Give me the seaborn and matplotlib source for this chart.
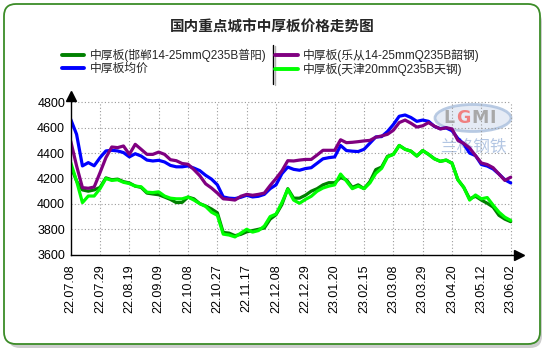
import numpy as np
import pandas as pd
import matplotlib
matplotlib.use("Agg")
import matplotlib.pyplot as plt
import seaborn as sns
from matplotlib.patches import FancyBboxPatch, Ellipse
from matplotlib.lines import Line2D
from matplotlib.transforms import IdentityTransform

# ---------------- data (one point every 3 trading days) ----------------
date_labels = ["22.07.08", "22.07.29", "22.08.19", "22.09.09", "22.10.08", "22.10.27",
               "22.11.17", "22.12.08", "22.12.29", "23.01.20", "23.02.15", "23.03.08",
               "23.03.29", "23.04.20", "23.05.12", "23.06.02"]

handan = [4300, 4180, 4110, 4100, 4110, 4130, 4205, 4190, 4195, 4175, 4165, 4140, 4130,
          4085, 4078, 4072, 4054, 4035, 4010, 4012, 4054, 4040, 4002, 3984, 3960, 3930,
          3775, 3770, 3750, 3760, 3780, 3790, 3800, 3810, 3880, 3915, 3995, 4120, 4045,
          4045, 4068, 4100, 4120, 4150, 4167, 4167, 4207, 4190, 4130, 4150, 4120, 4175,
          4270, 4290, 4375, 4390, 4460, 4430, 4415, 4377, 4420, 4390, 4355, 4335, 4345,
          4320, 4190, 4130, 4040, 4060, 4030, 4005, 3975, 3910, 3880, 3860]

average = [4666, 4548, 4299, 4325, 4300, 4364, 4417, 4422, 4417, 4404, 4370, 4395, 4377,
           4345, 4338, 4343, 4330, 4303, 4292, 4292, 4299, 4282, 4262, 4225, 4195, 4150,
           4055, 4045, 4042, 4052, 4068, 4055, 4060, 4075, 4120, 4150, 4238, 4290, 4272,
           4265, 4278, 4285, 4320, 4355, 4364, 4370, 4460, 4420, 4415, 4412, 4430, 4478,
           4527, 4530, 4570, 4625, 4690, 4700, 4680, 4650, 4660, 4650, 4610, 4592, 4598,
           4576, 4515, 4472, 4400, 4380, 4310, 4298, 4275, 4235, 4190, 4165]

lecong = [4495, 4300, 4128, 4123, 4133, 4246, 4364, 4448, 4443, 4456, 4390, 4469, 4430,
          4390, 4390, 4408, 4390, 4348, 4340, 4318, 4312, 4270, 4222, 4158, 4125, 4085,
          4040, 4036, 4030, 4060, 4075, 4068, 4075, 4085, 4145, 4200, 4260, 4340, 4338,
          4345, 4350, 4350, 4385, 4422, 4422, 4422, 4505, 4482, 4485, 4490, 4496, 4500,
          4525, 4535, 4548, 4580, 4640, 4660, 4635, 4605, 4615, 4640, 4612, 4590, 4600,
          4590, 4500, 4476, 4440, 4380, 4322, 4310, 4285, 4235, 4185, 4210]

tianjin = [4325, 4180, 4010, 4062, 4062, 4120, 4200, 4185, 4190, 4170, 4160, 4140, 4135,
           4092, 4089, 4095, 4062, 4045, 4040, 4040, 4054, 4030, 4002, 3980, 3935, 3910,
           3762, 3755, 3740, 3770, 3800, 3778, 3790, 3825, 3900, 3920, 4010, 4115, 4030,
           4005, 4035, 4060, 4100, 4125, 4140, 4150, 4235, 4180, 4120, 4140, 4120, 4165,
           4240, 4280, 4370, 4390, 4460, 4430, 4415, 4377, 4420, 4390, 4355, 4335, 4345,
           4320, 4190, 4130, 4030, 4070, 4040, 4050, 3990, 3935, 3895, 3870]

series_names = ["中厚板(邯郸14-25mmQ235B普阳)", "中厚板均价",
                "中厚板(乐从14-25mmQ235B韶钢)", "中厚板(天津20mmQ235B天钢)"]
series_values = [handan, average, lecong, tianjin]
series_colors = ["#008000", "#0000FF", "#800080", "#00FF00"]
y_ticks = [3600, 3800, 4000, 4200, 4400, 4600, 4800]
title = "国内重点城市中厚板价格走势图"
watermark_logo = ["L", "G", "M", "I"]
watermark_text = "兰格钢铁"

rows = []
for name, vals in zip(series_names, series_values):
    for i, v in enumerate(vals):
        rows.append({"idx": i, "price": v, "series": name})
df = pd.DataFrame(rows)

# ---------------- style ----------------
sns.set_theme(style="white")
plt.rcParams["font.family"] = ["Liberation Sans", "Noto Sans CJK SC", "DejaVu Sans"]
plt.rcParams["axes.unicode_minus"] = False

W, H = 550, 350
fig = plt.figure(figsize=(5.5, 3.5), dpi=100)
fig.patch.set_facecolor("white")

def fx(x):
    return x / W

def fy(y):
    return 1 - y / H

# card with shadow (pixel coordinates, origin bottom-left)
shadow = FancyBboxPatch((8, H - 348), 534, 338,
                        boxstyle="round,pad=0,rounding_size=12",
                        transform=IdentityTransform(), facecolor="#b8b8b8",
                        edgecolor="none", alpha=0.7, zorder=0)
card = FancyBboxPatch((4, H - 344), 536, 340,
                      boxstyle="round,pad=0,rounding_size=12",
                      transform=IdentityTransform(), facecolor="white",
                      edgecolor="#3c8c28", linewidth=1.3, zorder=1)
fig.patches.extend([shadow, card])

# axes placement
ax_left, ax_right = 70.7, 519.0
ax_top, ax_bottom = 96.0, 254.7
ax = fig.add_axes([fx(ax_left), fy(ax_bottom), fx(ax_right) - fx(ax_left),
                   fy(ax_top) - fy(ax_bottom)])
ax.set_facecolor("none")
ax.set_zorder(3)

n_pts = len(average)
last = n_pts - 1
x_max = last * (ax_right - ax_left) / (510.7 - ax_left)
y_top = 4800 + (102.3 - ax_top) * 200 / 25.45

# watermark (behind lines)
wm_ax = fig.add_axes([0, 0, 1, 1], zorder=2)
wm_ax.set_xlim(0, W)
wm_ax.set_ylim(H, 0)
wm_ax.axis("off")
wm_ax.add_patch(Ellipse((473, 118), 76, 27, facecolor="#dfe7f3", edgecolor="#a9bfdd",
                        linewidth=2.0, alpha=0.8))
logo_x = [449, 463, 480, 493]
logo_c = ["#a8a8a8", "#f08080", "#a8a8a8", "#a8a8a8"]
for ch, lx, lc in zip(watermark_logo, logo_x, logo_c):
    wm_ax.text(lx, 118, ch, ha="center", va="center", fontsize=12.5,
               fontweight="bold", color=lc, family=["DejaVu Sans"])
wm_ax.text(473, 147, watermark_text, ha="center", va="center", fontsize=12,
           color="#b3c6e3", family=["Noto Sans CJK SC"])

sns.lineplot(data=df, x="idx", y="price", hue="series", hue_order=series_names,
             palette=series_colors, linewidth=2.3, legend=False, ax=ax,
             estimator=None, sort=False)

ax.set_xlim(0, x_max)
ax.set_ylim(3600, y_top)
ax.set_xticks(list(range(0, n_pts, 5)))
ax.set_xticklabels(date_labels, rotation=90, fontsize=9)
ax.set_yticks(y_ticks)
ax.set_yticklabels([str(t) for t in y_ticks], fontsize=9)
ax.set_xlabel("")
ax.set_ylabel("")

# grid only inside data range
for t in y_ticks[1:]:
    ax.plot([0, last], [t, t], color="#9a9a9a", linewidth=0.8,
            linestyle=(0, (1, 2)), zorder=0.5)
for t in range(5, n_pts, 5):
    ax.plot([t, t], [3600, 4800], color="#9a9a9a", linewidth=0.8,
            linestyle=(0, (1, 2)), zorder=0.5)

for s in ["top", "right"]:
    ax.spines[s].set_visible(False)
for s in ["left", "bottom"]:
    ax.spines[s].set_color("black")
    ax.spines[s].set_linewidth(1.0)
ax.tick_params(axis="both", which="both", direction="out", length=3, width=0.8,
               color="black", labelcolor="black")
ax.tick_params(axis="x", pad=4)
ax.tick_params(axis="y", pad=1)

# arrows at axis ends
ax.plot([0], [1], marker="^", markersize=7, color="black", transform=ax.transAxes,
        clip_on=False, zorder=5)
ax.plot([1], [0], marker=">", markersize=7, color="black", transform=ax.transAxes,
        clip_on=False, zorder=5)

# title
fig.text(fx(272), fy(27), title, ha="center", va="center", fontsize=10.5,
         fontweight="bold", family=["Noto Sans CJK SC"], zorder=5)

# legend
handles = [Line2D([0], [0], color=c, linewidth=2.8) for c in series_colors]
leg = fig.legend(handles, series_names, ncol=2, loc="upper left",
                 bbox_to_anchor=(fx(62), fy(49)), frameon=False, fontsize=8.5,
                 handlelength=1.9, handletextpad=0.45, columnspacing=0.75,
                 labelspacing=0.05, borderpad=0, borderaxespad=0)
leg.set_zorder(5)
fig.add_artist(Line2D([fx(273), fx(273)], [fy(45), fy(84)], color="black", linewidth=1.0))
fig.add_artist(Line2D([fx(274.5), fx(274.5)], [fy(46), fy(85)], color="#b0b0b0",
                      linewidth=1.0))

fig.savefig("out.png", dpi=100, facecolor="white")
